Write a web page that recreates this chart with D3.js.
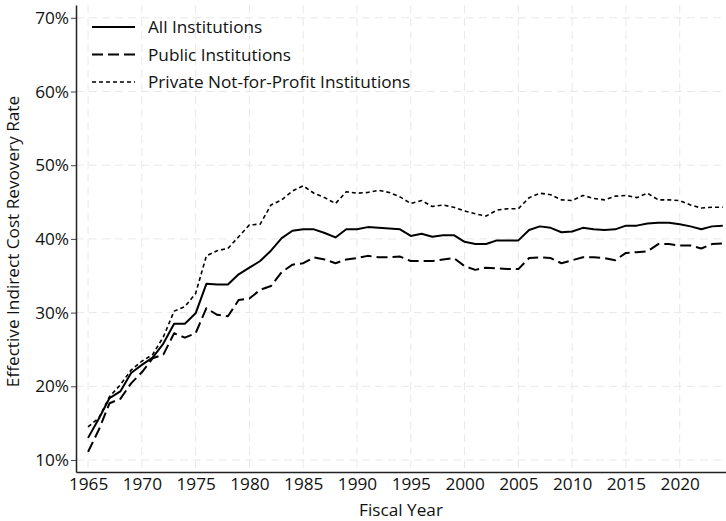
<!DOCTYPE html>
<html>
<head>
<meta charset="utf-8">
<script src="https://cdn.jsdelivr.net/npm/d3@7"></script>
<style>
  html, body { margin: 0; padding: 0; background: #fff; }
  svg { display: block; }
  text { font-family: "Open Sans", "Noto Sans", sans-serif; fill: #111; }
</style>
</head>
<body>
<svg id="chart" width="726" height="521"></svg>
<script>
const years = d3.range(1965, 2025);
const allInstitutions = [
  13.0, 15.6, 18.4, 19.3, 21.8, 22.9, 23.9, 25.8, 28.5, 28.5,
  29.9, 33.9, 33.8, 33.8, 35.2, 36.1, 37.0, 38.4, 40.1, 41.1,
  41.3, 41.3, 40.8, 40.2, 41.3, 41.3, 41.6, 41.5, 41.4, 41.3,
  40.4, 40.7, 40.3, 40.5, 40.5, 39.6, 39.3, 39.3, 39.8, 39.8,
  39.8, 41.2, 41.7, 41.5, 40.9, 41.0, 41.5, 41.3, 41.2, 41.3,
  41.8, 41.8, 42.1, 42.2, 42.2, 42.0, 41.7, 41.3, 41.7, 41.8
];
const publicInstitutions = [
  11.1, 14.1, 17.7, 18.3, 20.4, 21.9, 23.8, 24.3, 27.2, 26.6,
  27.2, 30.6, 29.7, 29.5, 31.7, 31.9, 33.1, 33.6, 35.5, 36.5,
  36.7, 37.5, 37.2, 36.7, 37.2, 37.4, 37.7, 37.5, 37.5, 37.6,
  37.0, 37.0, 37.0, 37.2, 37.4, 36.3, 35.8, 36.1, 36.0, 35.9,
  35.9, 37.4, 37.5, 37.4, 36.7, 37.1, 37.5, 37.5, 37.4, 37.1,
  38.1, 38.2, 38.3, 39.3, 39.3, 39.1, 39.1, 38.7, 39.3, 39.4
];
const privateInstitutions = [
  14.5, 15.7, 18.6, 20.2, 22.2, 23.4, 24.3, 26.7, 30.2, 30.8,
  32.6, 37.7, 38.4, 38.7, 40.3, 41.9, 42.0, 44.6, 45.3, 46.5,
  47.2, 46.2, 45.6, 44.8, 46.4, 46.2, 46.3, 46.6, 46.3, 45.7,
  44.8, 45.2, 44.4, 44.6, 44.3, 43.8, 43.4, 43.1, 43.9, 44.1,
  44.1, 45.6, 46.2, 46.0, 45.3, 45.2, 45.9, 45.5, 45.3, 45.8,
  45.9, 45.6, 46.2, 45.3, 45.3, 45.2, 44.6, 44.2, 44.3, 44.3
];
const xTicks = [1965, 1970, 1975, 1980, 1985, 1990, 1995, 2000, 2005, 2010, 2015, 2020];
const yTicks = [10, 20, 30, 40, 50, 60, 70];
const seriesNames = ["All Institutions", "Public Institutions", "Private Not-for-Profit Institutions"];
const xTitle = "Fiscal Year";
const yTitle = "Effective Indirect Cost Revovery Rate";

(function () {
const FS = 17.2;
const series = [
  { name: seriesNames[0], values: allInstitutions, dash: null, width: 2 },
  { name: seriesNames[1], values: publicInstitutions, dash: "11,5", width: 2 },
  { name: seriesNames[2], values: privateInstitutions, dash: "4,3", width: 1.6 }
];

const svg = d3.select("#chart");
const pL = 76, pR = 726, pT = 5, pB = 472;

const x = d3.scaleLinear().domain([1963.88, 2024.3]).range([pL, pR]);
const y = d3.scaleLinear().domain([8.37, 71.74]).range([pB, pT]);

// grid
const grid = svg.append("g");
grid.selectAll("line.v").data(xTicks).join("line").attr("class", "v")
  .attr("x1", d => x(d)).attr("x2", d => x(d))
  .attr("y1", pT).attr("y2", pB)
  .attr("stroke", "#e8e8e8").attr("stroke-width", 1).attr("stroke-dasharray", "8,5");
grid.selectAll("line.h").data(yTicks).join("line").attr("class", "h")
  .attr("x1", pL).attr("x2", pR)
  .attr("y1", d => y(d)).attr("y2", d => y(d))
  .attr("stroke", "#e8e8e8").attr("stroke-width", 1).attr("stroke-dasharray", "8,5");

// axes
const xAxis = svg.append("g").attr("transform", `translate(0,${pB})`)
  .call(d3.axisBottom(x).tickValues(xTicks).tickFormat(d3.format("d")).tickSize(0).tickPadding(6));
xAxis.select(".domain").attr("stroke", "#222").attr("stroke-width", 1.5);
xAxis.selectAll("text").attr("font-size", FS).style("font-family", '"Open Sans", sans-serif').attr("fill", "#111");

const yAxis = svg.append("g").attr("transform", `translate(${pL},0)`)
  .call(d3.axisLeft(y).tickValues(yTicks).tickFormat(d => d + "%").tickSize(5).tickPadding(2).tickSizeOuter(0));
yAxis.select(".domain").attr("stroke", "#222").attr("stroke-width", 1.5);
yAxis.selectAll(".tick line").attr("stroke", "#444");
yAxis.selectAll("text").attr("font-size", FS).style("font-family", '"Open Sans", sans-serif').attr("fill", "#111");

// lines
const line = d3.line().x((d, i) => x(years[i])).y(d => y(d));
svg.append("g").selectAll("path").data(series).join("path")
  .attr("d", d => line(d.values))
  .attr("fill", "none")
  .attr("stroke", "#000")
  .attr("stroke-width", d => d.width)
  .attr("stroke-dasharray", d => d.dash)
  .attr("stroke-linejoin", "round");

// legend
const legend = svg.append("g");
const rows = legend.selectAll("g").data(series).join("g")
  .attr("transform", (d, i) => `translate(92,${27 + i * 27.5})`);
rows.append("line").attr("x1", 0).attr("x2", 43).attr("y1", 0).attr("y2", 0)
  .attr("stroke", "#000").attr("stroke-width", d => d.width).attr("stroke-dasharray", d => d.dash);
rows.append("text").attr("x", 56).attr("y", 0).attr("dy", "0.35em")
  .attr("font-size", FS).text(d => d.name);

// titles
svg.append("text").attr("x", (pL + pR) / 2).attr("y", 516)
  .attr("text-anchor", "middle").attr("font-size", FS).text(xTitle);
svg.append("text").attr("transform", `translate(19,${(pT + pB) / 2 + 3}) rotate(-90)`)
  .attr("text-anchor", "middle").attr("font-size", FS).text(yTitle);
})();
</script>
</body>
</html>
